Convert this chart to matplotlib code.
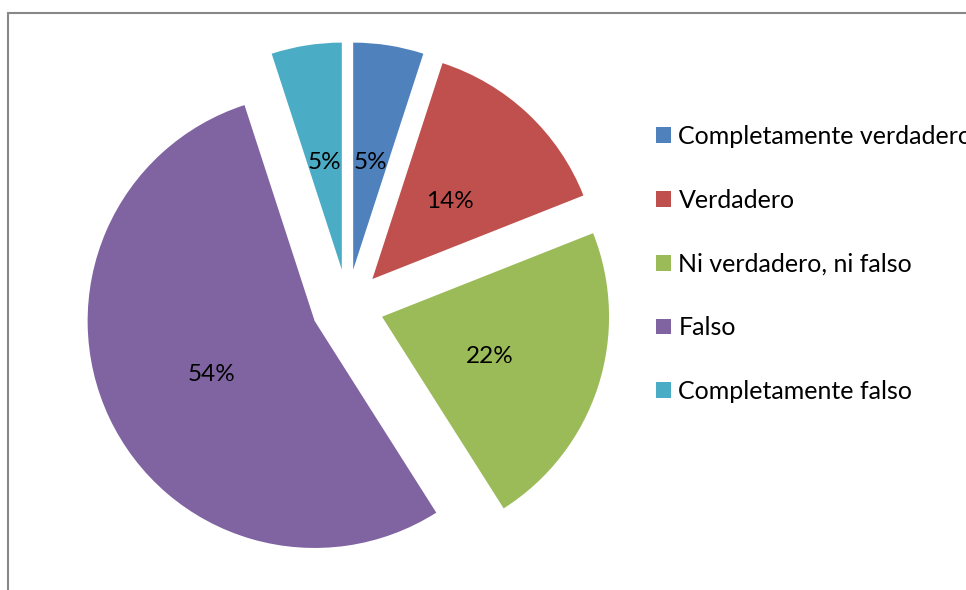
import matplotlib
matplotlib.use("Agg")
import matplotlib.pyplot as plt
from matplotlib.patches import Rectangle

labels = ["Completamente verdadero", "Verdadero", "Ni verdadero, ni falso",
          "Falso", "Completamente falso"]
values = [5, 14, 22, 54, 5]
colors = ["#4F81BD", "#C0504D", "#9BBB59", "#8064A2", "#4BACC6"]

W, H = 966, 590
fig = plt.figure(figsize=(W / 100, H / 100), dpi=100)
ax = fig.add_axes([0, 0, 1, 1])

R = 227.0
cx, cy = 347.5, 305.5  # pixel centre (from top-left)

wedges, texts, autotexts = ax.pie(
    values, colors=colors, explode=[0.16] * len(values), startangle=90,
    counterclock=False, radius=1, center=(0, 0),
    autopct=lambda p: f"{p:.0f}%", pctdistance=0.5,
    textprops=dict(fontsize=17.5, family="Lato", color="#000000"),
    wedgeprops=dict(linewidth=0))

for t in autotexts:
    x, y = t.get_position()
    t.set_position((x, y - 5 / R))

ax.set_xlim(-cx / R, (W - cx) / R)
ax.set_ylim(-(H - cy) / R, cy / R)
ax.set_aspect("equal", adjustable="box")
ax.axis("off")

fig.legend(wedges, labels, loc="center left",
           bbox_to_anchor=(656 / W, 1 - 264 / H), frameon=False,
           borderpad=0, borderaxespad=0, handlelength=0.6, handleheight=0.6,
           handletextpad=0.3, labelspacing=1.63,
           prop=dict(family="Lato", size=18))

# outer chart border (top and left visible)
fig.patches.append(Rectangle((8 / W, -0.1), 1.2, 1 - 13 / H + 0.1,
                             transform=fig.transFigure, fill=False,
                             edgecolor="#888888", linewidth=1.5, clip_on=False))

fig.savefig("out.png", dpi=100)
